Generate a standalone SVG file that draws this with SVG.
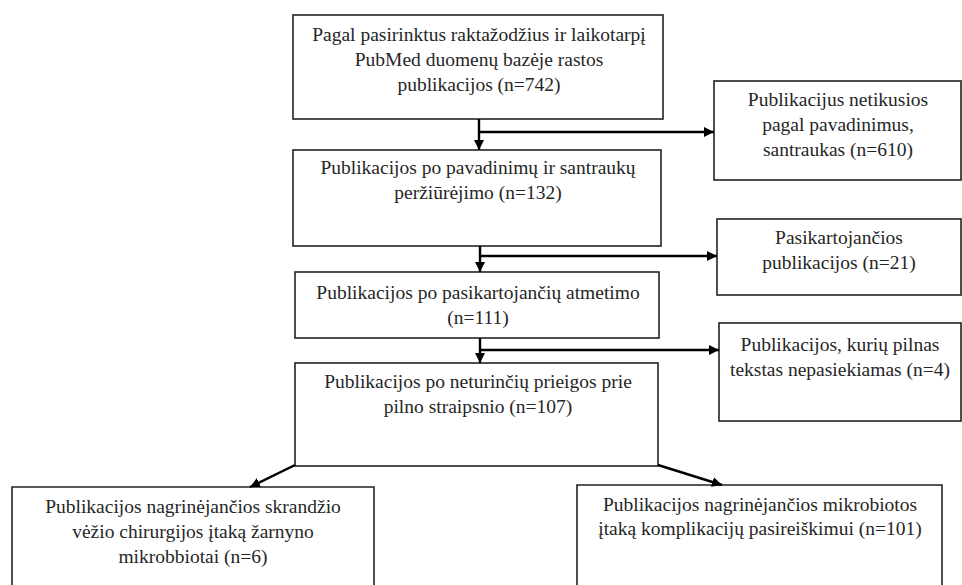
<svg xmlns="http://www.w3.org/2000/svg" width="962" height="585" viewBox="0 0 962 585">
<defs>
<marker id="ah" viewBox="0 0 10 10" refX="10" refY="5" markerWidth="10" markerHeight="10" markerUnits="userSpaceOnUse" orient="auto">
<path d="M0,0 L10,5 L0,10 z" fill="#000"/>
</marker>
<style>
.box{fill:#fff;stroke:#222;stroke-width:1.6}
.t{font-family:'Liberation Serif','Times New Roman','DejaVu Serif',serif;font-size:19.5px;fill:#262626;text-anchor:middle}
.c{fill:none;stroke:#000;stroke-width:2.4}
</style>
</defs>
<rect width="962" height="585" fill="#fff"/>
<g id="n1"><rect class="box" x="293" y="15" width="370" height="104"/>
<text class="t" x="479" y="41">Pagal pasirinktus raktažodžius ir laikotarpį</text>
<text class="t" x="479" y="66">PubMed duomenų bazėje rastos</text>
<text class="t" x="479" y="91">publikacijos (n=742)</text></g>
<g id="n2"><rect class="box" x="293" y="150" width="368" height="96"/>
<text class="t" x="478" y="174">Publikacijos po pavadinimų ir santraukų</text>
<text class="t" x="478" y="199">peržiūrėjimo (n=132)</text></g>
<g id="n3"><rect class="box" x="295" y="272" width="364" height="66"/>
<text class="t" x="478" y="299">Publikacijos po pasikartojančių atmetimo</text>
<text class="t" x="478" y="324">(n=111)</text></g>
<g id="n4"><rect class="box" x="295" y="363" width="363" height="103"/>
<text class="t" x="478" y="388">Publikacijos po neturinčių prieigos prie</text>
<text class="t" x="478" y="413">pilno straipsnio (n=107)</text></g>
<g id="r1"><rect class="box" x="714" y="81" width="247" height="99"/>
<text class="t" x="838" y="106">Publikacijus netikusios</text>
<text class="t" x="838" y="131">pagal pavadinimus,</text>
<text class="t" x="838" y="156">santraukas (n=610)</text></g>
<g id="r2"><rect class="box" x="717" y="219" width="244" height="76"/>
<text class="t" x="839" y="244">Pasikartojančios</text>
<text class="t" x="839" y="269">publikacijos (n=21)</text></g>
<g id="r3"><rect class="box" x="719" y="323" width="242" height="98"/>
<text class="t" x="840" y="351">Publikacijos, kurių pilnas</text>
<text class="t" x="840" y="376">tekstas nepasiekiamas (n=4)</text></g>
<g id="b1"><path class="box" d="M12,590 V487 H374 V590"/>
<text class="t" x="193" y="513">Publikacijos nagrinėjančios skrandžio</text>
<text class="t" x="193" y="538">vėžio chirurgijos įtaką žarnyno</text>
<text class="t" x="193" y="563">mikrobbiotai (n=6)</text></g>
<g id="b2"><path class="box" d="M577,590 V485 H942 V590"/>
<text class="t" x="760" y="511">Publikacijos nagrinėjančios mikrobiotos</text>
<text class="t" x="760" y="535">įtaką komplikacijų pasireiškimui (n=101)</text></g>
<g id="connectors">
<path class="c" d="M479,119 V150" marker-end="url(#ah)"/>
<path class="c" d="M479,132 H714" marker-end="url(#ah)"/>
<path class="c" d="M480,246 V272" marker-end="url(#ah)"/>
<path class="c" d="M480,256 H717" marker-end="url(#ah)"/>
<path class="c" d="M480,338 V363" marker-end="url(#ah)"/>
<path class="c" d="M480,350 H719" marker-end="url(#ah)"/>
<path class="c" d="M295,465 L250,487" marker-end="url(#ah)"/>
<path class="c" d="M658,465 L722,485" marker-end="url(#ah)"/>
</g>
</svg>
